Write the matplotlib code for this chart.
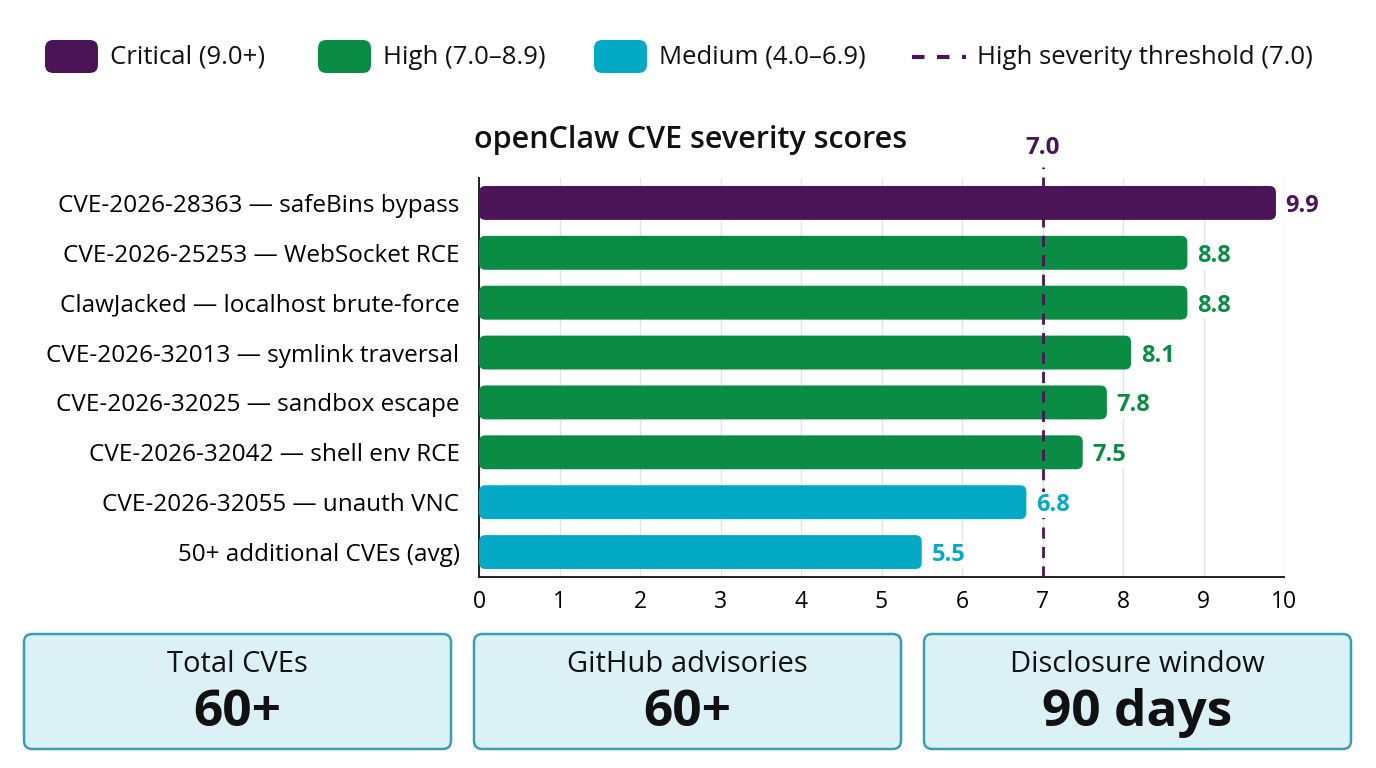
import numpy as np
import matplotlib
matplotlib.use("Agg")
import matplotlib.pyplot as plt
from matplotlib.patches import FancyBboxPatch
from matplotlib.lines import Line2D

plt.rcParams['font.family'] = ['Open Sans', 'DejaVu Sans']

# data
labels = [
    "CVE-2026-28363 \u2014 safeBins bypass",
    "CVE-2026-25253 \u2014 WebSocket RCE",
    "ClawJacked \u2014 localhost brute-force",
    "CVE-2026-32013 \u2014 symlink traversal",
    "CVE-2026-32025 \u2014 sandbox escape",
    "CVE-2026-32042 \u2014 shell env RCE",
    "CVE-2026-32055 \u2014 unauth VNC",
    "50+ additional CVEs (avg)",
]
scores = [9.9, 8.8, 8.8, 8.1, 7.8, 7.5, 6.8, 5.5]
severity = ["Critical", "High", "High", "High", "High", "High", "Medium", "Medium"]
threshold = 7.0

legend_names = ["Critical (9.0+)", "High (7.0\u20138.9)", "Medium (4.0\u20136.9)"]
threshold_name = "High severity threshold (7.0)"

stat_titles = ["Total CVEs", "GitHub advisories", "Disclosure window"]
stat_values = ["60+", "60+", "90 days"]

colors = {"Critical": "#4A1456", "High": "#0B8C45", "Medium": "#04A9C5"}
thr_color = "#4A1456"

W, H = 1376, 768
fig = plt.figure(figsize=(W / 100, H / 100), dpi=100)

def fx(px):
    return px / W

def fy(py):
    return 1 - py / H

ax = fig.add_axes([fx(479), fy(577), fx(1284) - fx(479), fy(178) - fy(577)])

y = np.arange(len(labels))
bars = ax.barh(y, scores, height=0.68, color=[colors[s] for s in severity])
ax.set_xlim(0, 10)
ax.set_ylim(len(labels) - 0.5, -0.5)

# swap the plain bars for rounded ones
px_x = (1284 - 479) / 10.0
px_y = (577 - 178) / len(labels)
for b, s in zip(bars, severity):
    b.set_visible(False)
    rb = FancyBboxPatch((b.get_x(), b.get_y()), b.get_width(), b.get_height(),
                        boxstyle="round,pad=0,rounding_size=0.08",
                        mutation_aspect=px_x / px_y,
                        facecolor=colors[s], edgecolor="none", zorder=3)
    ax.add_patch(rb)

for yi, v, s in zip(y, scores, severity):
    ax.text(v + 0.12, yi, "{:.1f}".format(v), va="center_baseline", ha="left",
            fontsize=17, fontweight="bold", color=colors[s], zorder=6,
            bbox=dict(facecolor="white", edgecolor="none", pad=0.5))

ax.set_yticks(y)
ax.set_yticklabels(labels, fontsize=17.5)
ax.set_xticks(range(0, 11))
ax.tick_params(axis="x", labelsize=16.5, length=0, pad=9)
ax.tick_params(axis="y", length=0, pad=14)
ax.grid(axis="x", color="#e3e3e3", linewidth=1, zorder=0)
ax.set_axisbelow(True)
for sp in ["top", "right"]:
    ax.spines[sp].set_visible(False)
for sp in ["left", "bottom"]:
    ax.spines[sp].set_linewidth(1.4)
    ax.spines[sp].set_color("#222222")

# threshold line, running a little above the axes
ax.plot([threshold, threshold], [len(labels) - 0.5, -0.72], color=thr_color,
        linestyle=(0, (4, 3)), linewidth=2, zorder=5, clip_on=False)
ax.text(threshold, -0.86, "{:.1f}".format(threshold), ha="center", va="bottom",
        fontsize=17.5, fontweight="bold", color=thr_color)

fig.text(fx(474), fy(140), "openClaw CVE severity scores", ha="left",
         va="center", fontsize=22, fontweight="semibold", color="#111111")

# legend across the top
sw_x = [45, 318, 594]
for x0, name, key in zip(sw_x, legend_names, ["Critical", "High", "Medium"]):
    sw = FancyBboxPatch((fx(x0), fy(73)), fx(53), fy(40) - fy(73),
                        boxstyle="round,pad=0,rounding_size=0.006",
                        mutation_aspect=W / H,
                        transform=fig.transFigure, facecolor=colors[key],
                        edgecolor="none")
    fig.patches.append(sw)
    fig.text(fx(x0 + 65), fy(57), name, ha="left", va="center", fontsize=18.5,
             color="#111111")
fig.add_artist(Line2D([fx(912), fx(966)], [fy(57), fy(57)],
                      transform=fig.transFigure, color=thr_color,
                      linestyle=(0, (3, 3)), linewidth=3))
fig.text(fx(977), fy(57), threshold_name, ha="left", va="center",
         fontsize=18.5, color="#111111")

# stat cards
card_x = [24, 474, 924]
for x0, t, v in zip(card_x, stat_titles, stat_values):
    card = FancyBboxPatch((fx(x0), fy(749)), fx(427), fy(634) - fy(749),
                          boxstyle="round,pad=0,rounding_size=0.006",
                          mutation_aspect=W / H,
                          transform=fig.transFigure, facecolor="#DCF1F6",
                          edgecolor="#3B9EB0", linewidth=1.8)
    fig.patches.append(card)
    cx = fx(x0 + 213)
    fig.text(cx, fy(665), t, ha="center", va="center", fontsize=21,
             color="#111111")
    fig.text(cx, fy(713), v, ha="center", va="center", fontsize=37,
             fontweight="bold", color="#111111")

fig.savefig("out.png", dpi=100, facecolor="white")
